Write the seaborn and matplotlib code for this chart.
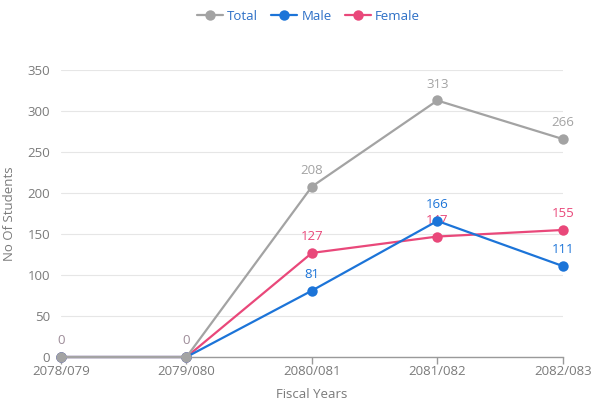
import pandas as pd
import matplotlib.pyplot as plt
import seaborn as sns
from matplotlib.lines import Line2D

years = ['2078/079', '2079/080', '2080/081', '2081/082', '2082/083']
total = [0, 0, 208, 313, 266]
male = [0, 0, 81, 166, 111]
female = [0, 0, 127, 147, 155]

series = ['Total', 'Male', 'Female']
colors = {'Total': '#a3a3a3', 'Male': '#1c74d8', 'Female': '#e9487a'}

df = pd.DataFrame({'year': years * 3,
                   'value': total + male + female,
                   'series': [s for s in series for _ in years]})

sns.set_style('white')
plt.rcParams['font.family'] = ['Open Sans', 'DejaVu Sans']

fig = plt.figure(figsize=(5.93, 4.08), dpi=100)
ax = fig.add_axes([0.103, 0.125, 0.846, 0.703])

zorders = {'Total': 5, 'Male': 4, 'Female': 3}
for s in series:
    d = df[df['series'] == s]
    sns.lineplot(data=d, x='year', y='value', color=colors[s], marker='o',
                 markersize=7.5, markeredgewidth=0, linewidth=1.6, ax=ax,
                 zorder=zorders[s], legend=False)

# point labels
for s in series:
    d = df[df['series'] == s]
    for i, v in enumerate(d['value']):
        if v == 0:
            continue
        ax.annotate(str(v), (i, v), xytext=(0, 7), textcoords='offset points',
                    ha='center', va='bottom', color=colors[s], fontsize=9.5)
for i, v in enumerate(total):
    if v == 0:
        ax.annotate('0', (i, v), xytext=(0, 7), textcoords='offset points',
                    ha='center', va='bottom', color='#9d8c98', fontsize=9.5)

ax.set_ylim(0, 350)
ax.set_xlim(0, len(years) - 1)
ax.set_yticks(range(0, 351, 50))
ax.grid(axis='y', color='#e6e6e6', linewidth=0.8)
ax.set_axisbelow(True)
for sp in ['top', 'right', 'left']:
    ax.spines[sp].set_visible(False)
ax.spines['bottom'].set_color('#9a9a9a')
ax.spines['bottom'].set_linewidth(1)
ax.spines['bottom'].set_zorder(1)
ax.tick_params(axis='x', length=5, width=1, color='#9a9a9a', labelcolor='#7a7a7a',
               labelsize=9.5, pad=1, bottom=True)
ax.tick_params(axis='y', length=0, labelcolor='#7a7a7a', labelsize=9.5, pad=8)
for lab in ax.get_yticklabels():
    lab.set_clip_on(False)
for ln in ax.lines:
    ln.set_clip_on(False)

ax.set_xlabel('Fiscal Years', color='#7a7a7a', fontsize=9.5, labelpad=7)
ax.set_ylabel('No Of Students', color='#7a7a7a', fontsize=9.5, labelpad=8)

handles = [Line2D([0], [0], color=colors[s], marker='o', markersize=7.5,
                  markeredgewidth=0, linewidth=1.6) for s in series]
leg = fig.legend(handles, series, loc='center', bbox_to_anchor=(0.52, 0.96),
                 ncol=3, frameon=False, fontsize=9.5, handlelength=2,
                 handletextpad=0.3, columnspacing=1.0)
for t in leg.get_texts():
    t.set_color('#2c6fc6')

plt.savefig('out.png', dpi=100)
plt.close()
